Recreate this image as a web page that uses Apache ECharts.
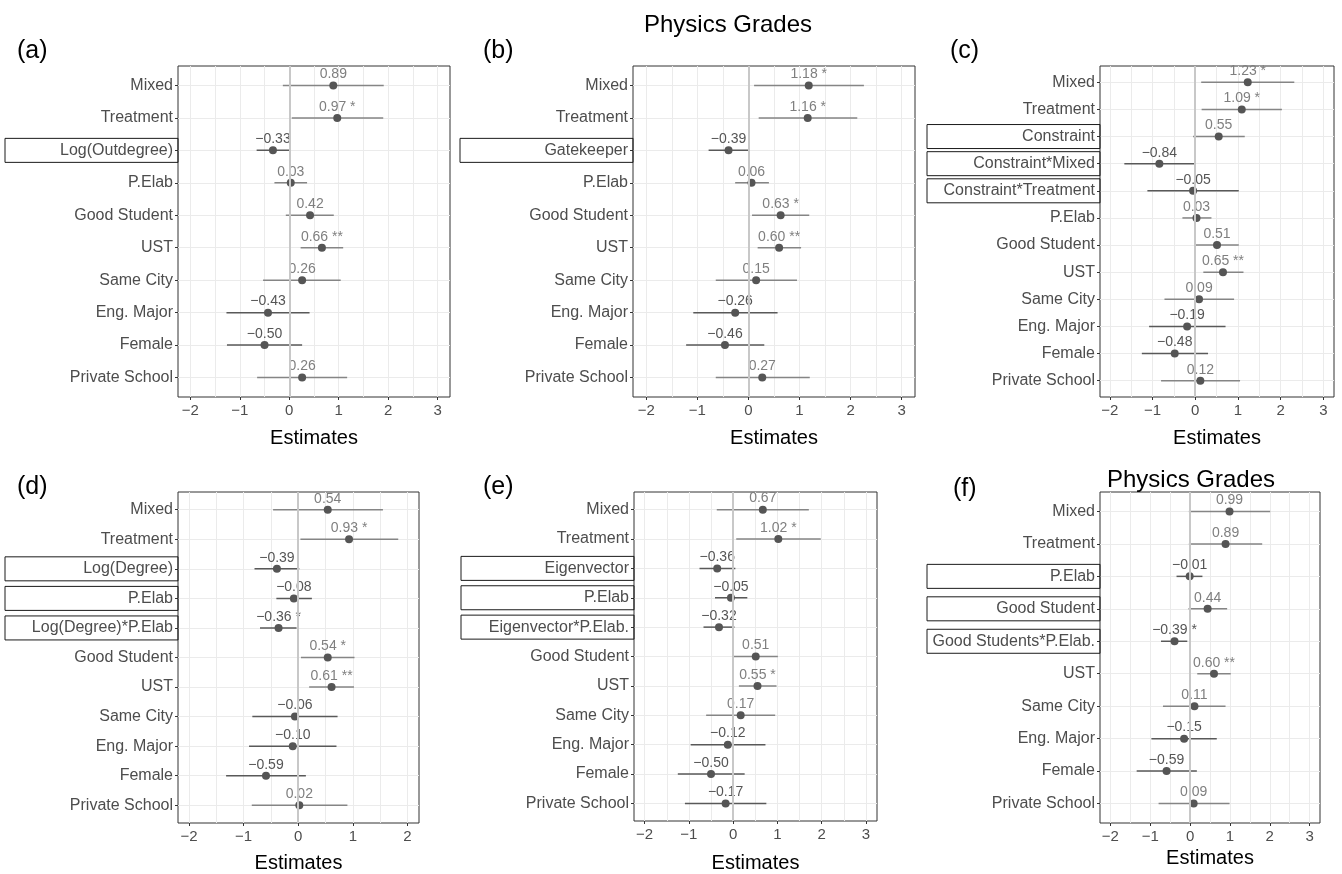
<!DOCTYPE html>
<html>
<head>
<meta charset="utf-8">
<script src="https://cdn.jsdelivr.net/npm/echarts@6/dist/echarts.min.js"></script>
<style>
  html, body { margin: 0; padding: 0; background: #fff; }
  #main { width: 1342px; height: 874px; }
</style>
</head>
<body>
<div id="main"></div>
<script>
// (a) Log(Outdegree)
const catsA = ['Mixed', 'Treatment', 'Log(Outdegree)', 'P.Elab', 'Good Student', 'UST', 'Same City', 'Eng. Major', 'Female', 'Private School'];
const estA = [0.89, 0.97, -0.33, 0.03, 0.42, 0.66, 0.26, -0.43, -0.50, 0.26];
const lowA = [-0.13, 0.05, -0.66, -0.30, -0.07, 0.23, -0.53, -1.27, -1.26, -0.65];
const highA = [1.91, 1.90, 0.00, 0.36, 0.90, 1.09, 1.04, 0.41, 0.26, 1.17];
const starsA = ['', '*', '', '', '', '**', '', '', '', ''];
const boxA = [2];

// (b) Gatekeeper
const catsB = ['Mixed', 'Treatment', 'Gatekeeper', 'P.Elab', 'Good Student', 'UST', 'Same City', 'Eng. Major', 'Female', 'Private School'];
const estB = [1.18, 1.16, -0.39, 0.06, 0.63, 0.60, 0.15, -0.26, -0.46, 0.27];
const lowB = [0.11, 0.20, -0.78, -0.26, 0.07, 0.18, -0.64, -1.08, -1.22, -0.64];
const highB = [2.26, 2.13, 0.00, 0.40, 1.19, 1.03, 0.95, 0.57, 0.31, 1.20];
const starsB = ['*', '*', '', '', '*', '**', '', '', '', ''];
const boxB = [2];

// (c) Constraint
const catsC = ['Mixed', 'Treatment', 'Constraint', 'Constraint*Mixed', 'Constraint*Treatment', 'P.Elab', 'Good Student', 'UST', 'Same City', 'Eng. Major', 'Female', 'Private School'];
const estC = [1.23, 1.09, 0.55, -0.84, -0.05, 0.03, 0.51, 0.65, 0.09, -0.19, -0.48, 0.12];
const lowC = [0.14, 0.15, -0.05, -1.66, -1.12, -0.30, 0.00, 0.19, -0.72, -1.08, -1.25, -0.80];
const highC = [2.32, 2.03, 1.16, -0.01, 1.02, 0.38, 1.02, 1.13, 0.91, 0.71, 0.30, 1.05];
const starsC = ['*', '*', '', '', '', '', '', '**', '', '', '', ''];
const boxC = [2, 3, 4];

// (d) Log(Degree)
const catsD = ['Mixed', 'Treatment', 'Log(Degree)', 'P.Elab', 'Log(Degree)*P.Elab', 'Good Student', 'UST', 'Same City', 'Eng. Major', 'Female', 'Private School'];
const estD = [0.54, 0.93, -0.39, -0.08, -0.36, 0.54, 0.61, -0.06, -0.10, -0.59, 0.02];
const lowD = [-0.46, 0.04, -0.80, -0.40, -0.70, 0.05, 0.20, -0.84, -0.90, -1.32, -0.85];
const highD = [1.55, 1.83, 0.02, 0.25, -0.03, 1.03, 1.02, 0.72, 0.70, 0.14, 0.90];
const starsD = ['', '*', '', '', '*', '*', '**', '', '', '', ''];
const boxD = [2, 3, 4];

// (e) Eigenvector
const catsE = ['Mixed', 'Treatment', 'Eigenvector', 'P.Elab', 'Eigenvector*P.Elab.', 'Good Student', 'UST', 'Same City', 'Eng. Major', 'Female', 'Private School'];
const estE = [0.67, 1.02, -0.36, -0.05, -0.32, 0.51, 0.55, 0.17, -0.12, -0.50, -0.17];
const lowE = [-0.37, 0.07, -0.76, -0.41, -0.67, 0.01, 0.13, -0.61, -0.96, -1.25, -1.09];
const highE = [1.71, 1.98, 0.05, 0.32, 0.03, 1.01, 0.98, 0.95, 0.73, 0.26, 0.75];
const starsE = ['', '*', '', '', '', '', '*', '', '', '', ''];
const boxE = [2, 3, 4];

// (f) Good Student * P.Elab
const catsF = ['Mixed', 'Treatment', 'P.Elab', 'Good Student', 'Good Students*P.Elab.', 'UST', 'Same City', 'Eng. Major', 'Female', 'Private School'];
const estF = [0.99, 0.89, -0.01, 0.44, -0.39, 0.60, 0.11, -0.15, -0.59, 0.09];
const lowF = [-0.03, -0.03, -0.34, -0.04, -0.73, 0.18, -0.68, -0.97, -1.34, -0.79];
const highF = [2.01, 1.81, 0.31, 0.93, -0.07, 1.02, 0.89, 0.67, 0.17, 0.99];
const starsF = ['', '', '', '', '*', '**', '', '', '', ''];
const boxF = [2, 3, 4];

const ticks5 = [-2, -1, 0, 1, 2, 3];
const ticks4 = [-2, -1, 0, 1, 2];

const FONT = '"Liberation Sans", Arial, Helvetica, sans-serif';
const DARK = '#595959';
const LIGHT = '#858585';

const panels = [
  { tag: '(a)', cats: catsA, est: estA, low: lowA, high: highA, stars: starsA, box: boxA,
    grid: { left: 178, top: 66, width: 272, height: 331 }, xr: [-2.25, 3.25], ticks: ticks5, gap: 31, lab: [12, 34] },
  { tag: '(b)', cats: catsB, est: estB, low: lowB, high: highB, stars: starsB, box: boxB,
    grid: { left: 633, top: 66, width: 282, height: 331 }, xr: [-2.26, 3.26], ticks: ticks5, gap: 31, lab: [478, 34] },
  { tag: '(c)', cats: catsC, est: estC, low: lowC, high: highC, stars: starsC, box: boxC,
    grid: { left: 1100, top: 66, width: 234, height: 331 }, xr: [-2.23, 3.25], ticks: ticks5, gap: 31, lab: [945, 34] },
  { tag: '(d)', cats: catsD, est: estD, low: lowD, high: highD, stars: starsD, box: boxD,
    grid: { left: 178, top: 492, width: 241, height: 331 }, xr: [-2.2, 2.21], ticks: ticks4, gap: 30, lab: [12, 470] },
  { tag: '(e)', cats: catsE, est: estE, low: lowE, high: highE, stars: starsE, box: boxE,
    grid: { left: 634, top: 492, width: 243, height: 331 }, xr: [-2.24, 3.25], ticks: ticks5, gap: 32, lab: [478, 470] },
  { tag: '(f)', cats: catsF, est: estF, low: lowF, high: highF, stars: starsF, box: boxF,
    grid: { left: 1100, top: 492, width: 220, height: 331 }, xr: [-2.26, 3.26], ticks: ticks5, gap: 25, lab: [948, 472] }
];

function fmtNum(v) {
  return (v < 0 ? '\u2212' : '') + Math.abs(v).toFixed(2);
}

const option = {
  animation: false,
  textStyle: { fontFamily: FONT },
  title: [
    { text: 'Physics Grades', left: 723, top: 8, textAlign: 'center',
      textStyle: { fontSize: 24, fontWeight: 'normal', color: '#000', fontFamily: FONT } },
    { text: 'Physics Grades', left: 1186, top: 463, textAlign: 'center',
      textStyle: { fontSize: 24, fontWeight: 'normal', color: '#000', fontFamily: FONT } }
  ],
  grid: [], xAxis: [], yAxis: [], series: []
};

panels.forEach((p, k) => {
  const n = p.cats.length;
  const idx = p.cats.map((c, i) => i);
  option.title.push({ text: p.tag, left: p.lab[0], top: p.lab[1],
    textStyle: { fontSize: 25, fontWeight: 'normal', color: '#000', fontFamily: FONT } });

  option.grid.push(Object.assign({ show: true, borderColor: '#333', borderWidth: 1, backgroundColor: '#fff', containLabel: false }, p.grid));

  const half = [];
  for (let v = Math.ceil(p.xr[0] * 2) / 2; v <= p.xr[1]; v += 0.5) {
    if (v % 1 !== 0) half.push(v);
  }
  // main x axis
  option.xAxis.push({
    type: 'value', gridIndex: k, min: p.xr[0], max: p.xr[1], position: 'bottom',
    name: 'Estimates', nameLocation: 'middle', nameGap: p.gap,
    nameTextStyle: { fontSize: 20, color: '#000', fontFamily: FONT },
    axisLine: { show: false, onZero: false },
    axisTick: { show: true, length: 3, customValues: p.ticks, lineStyle: { color: '#333' } },
    axisLabel: { customValues: p.ticks, margin: 6, fontSize: 15, color: '#4d4d4d', fontFamily: FONT,
      formatter: v => (v < 0 ? '\u2212' + Math.abs(v) : String(v)) },
    splitLine: { show: true, lineStyle: { color: '#ebebeb', width: 1 } }
  });
  // minor grid lines
  option.xAxis.push({
    type: 'value', gridIndex: k, min: p.xr[0], max: p.xr[1], position: 'bottom',
    axisLine: { show: false, onZero: false },
    axisTick: { show: false, customValues: half },
    axisLabel: { show: false, customValues: half },
    splitLine: { show: true, lineStyle: { color: '#ebebeb', width: 1 } }
  });

  option.yAxis.push({
    type: 'value', gridIndex: k, inverse: true, min: -0.6, max: n - 0.4, position: 'left',
    axisLine: { show: false, onZero: false },
    axisTick: { show: true, length: 3, customValues: idx, lineStyle: { color: '#333' } },
    axisLabel: {
      customValues: idx, margin: 0, fontSize: 16, color: '#4d4d4d', fontFamily: FONT,
      formatter: v => {
        const name = p.cats[Math.round(v)];
        return p.box.indexOf(Math.round(v)) >= 0 ? '{box|' + name + '}' : '{p|' + name + '}';
      },
      rich: {
        p: { fontSize: 16, color: '#4d4d4d', fontFamily: FONT, padding: [0, 5, 0, 0] },
        box: { fontSize: 16, color: '#4d4d4d', fontFamily: FONT, width: 168, height: 18, align: 'right',
          padding: [3, 5, 3, 0], borderColor: '#1a1a1a', borderWidth: 1 }
      }
    },
    splitLine: { show: true, lineStyle: { color: '#ebebeb', width: 1 } }
  });

  const xi = k * 2;
  // zero reference line
  option.series.push({
    type: 'scatter', xAxisIndex: xi, yAxisIndex: k, data: [], z: 1, silent: true,
    markLine: { symbol: ['none', 'none'], silent: true, label: { show: false },
      lineStyle: { color: '#c8c8c8', width: 2, type: 'solid' },
      data: [{ xAxis: 0 }] }
  });
  // confidence intervals
  option.series.push({
    type: 'custom', xAxisIndex: xi, yAxisIndex: k, z: 3, silent: true,
    encode: { x: [0, 1], y: 2 },
    data: idx.map(i => [p.low[i], p.high[i], i, p.est[i]]),
    renderItem: (params, api) => {
      const a = api.coord([api.value(0), api.value(2)]);
      const b = api.coord([api.value(1), api.value(2)]);
      return { type: 'line', shape: { x1: a[0], y1: a[1], x2: b[0], y2: b[1] },
        style: { stroke: api.value(3) < 0 ? DARK : LIGHT, lineWidth: 1.5 } };
    }
  });
  // estimates
  option.series.push({
    type: 'scatter', xAxisIndex: xi, yAxisIndex: k, z: 4, silent: true,
    symbolSize: 8, itemStyle: { color: '#555555', opacity: 1 },
    data: idx.map(i => ({
      value: [p.est[i], i],
      label: {
        show: true, position: 'top', distance: 0, fontSize: 14, fontFamily: FONT,
        color: p.est[i] < 0 ? '#555555' : '#7f7f7f',
        formatter: fmtNum(p.est[i]) + (p.stars[i] ? ' ' + p.stars[i] : '')
      }
    }))
  });
});

const chart = echarts.init(document.getElementById('main'));
chart.setOption(option);
</script>
</body>
</html>
